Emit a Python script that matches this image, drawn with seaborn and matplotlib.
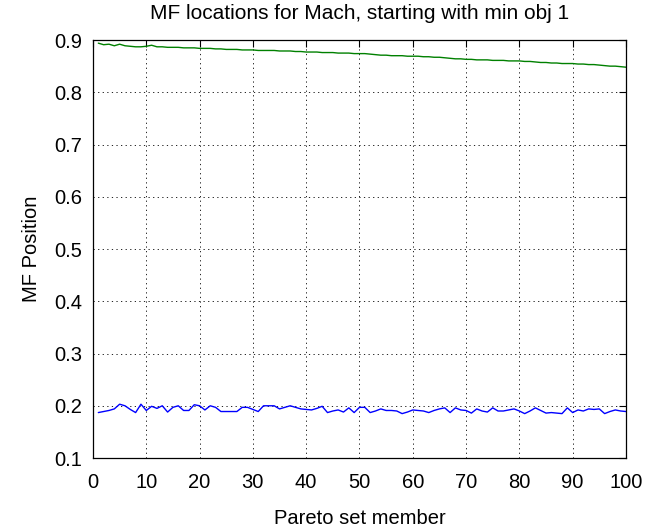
import matplotlib
matplotlib.use("Agg")
import matplotlib.pyplot as plt
import seaborn as sns
import pandas as pd

member = list(range(1, 101))

mf_upper = [
    0.894, 0.891, 0.892, 0.889, 0.892, 0.889, 0.888, 0.887, 0.887, 0.888,
    0.890, 0.887, 0.887, 0.886, 0.886, 0.886, 0.885, 0.885, 0.885, 0.884,
    0.884, 0.884, 0.883, 0.883, 0.882, 0.882, 0.882, 0.881, 0.881, 0.881,
    0.880, 0.880, 0.880, 0.880, 0.879, 0.879, 0.879, 0.878, 0.878, 0.877,
    0.877, 0.877, 0.876, 0.876, 0.876, 0.875, 0.875, 0.875, 0.874, 0.874,
    0.874, 0.873, 0.872, 0.871, 0.871, 0.870, 0.870, 0.870, 0.869, 0.869,
    0.869, 0.868, 0.868, 0.867, 0.867, 0.866, 0.865, 0.864, 0.864, 0.863,
    0.863, 0.862, 0.862, 0.862, 0.861, 0.861, 0.861, 0.860, 0.860, 0.860,
    0.859, 0.859, 0.858, 0.857, 0.857, 0.856, 0.856, 0.855, 0.855, 0.855,
    0.854, 0.854, 0.853, 0.853, 0.852, 0.851, 0.850, 0.850, 0.849, 0.848,
]

mf_lower = [
    0.187, 0.189, 0.191, 0.194, 0.203, 0.200, 0.193, 0.187, 0.203, 0.191,
    0.199, 0.195, 0.200, 0.188, 0.197, 0.200, 0.191, 0.191, 0.202, 0.200,
    0.192, 0.200, 0.197, 0.189, 0.189, 0.189, 0.189, 0.197, 0.197, 0.193,
    0.189, 0.200, 0.200, 0.200, 0.194, 0.197, 0.200, 0.197, 0.194, 0.193,
    0.192, 0.195, 0.199, 0.187, 0.190, 0.192, 0.188, 0.196, 0.187, 0.197,
    0.197, 0.187, 0.190, 0.194, 0.191, 0.191, 0.190, 0.185, 0.188, 0.192,
    0.191, 0.190, 0.187, 0.191, 0.194, 0.196, 0.187, 0.196, 0.192, 0.191,
    0.186, 0.194, 0.190, 0.188, 0.196, 0.190, 0.190, 0.192, 0.194, 0.190,
    0.185, 0.190, 0.196, 0.191, 0.186, 0.187, 0.186, 0.185, 0.196, 0.187,
    0.192, 0.190, 0.194, 0.193, 0.194, 0.185, 0.189, 0.192, 0.190, 0.189,
]

x_ticks = [0, 10, 20, 30, 40, 50, 60, 70, 80, 90, 100]
y_ticks = [0.1, 0.2, 0.3, 0.4, 0.5, 0.6, 0.7, 0.8, 0.9]

title = "MF locations for Mach, starting with min obj 1"
xlabel = "Pareto set member"
ylabel = "MF Position"

sns.set_style("white")
plt.rcParams['font.family'] = ['Liberation Sans', 'DejaVu Sans']
plt.rcParams['text.color'] = 'black'
plt.rcParams['axes.labelcolor'] = 'black'

df = pd.DataFrame({"member": member + member,
                   "pos": mf_upper + mf_lower,
                   "series": ["upper"] * len(member) + ["lower"] * len(member)})

fig = plt.figure(figsize=(6.53, 5.30), dpi=100)
ax = fig.add_axes([0.1424, 0.1358, 0.8162, 0.7887])

sns.lineplot(data=df, x="member", y="pos", hue="series",
             palette={"upper": "#008000", "lower": "#0000ff"},
             linewidth=1.0, legend=False, ax=ax)

ax.set_xlim(0, 100)
ax.set_ylim(0.1, 0.9)
ax.set_xticks(x_ticks)
ax.set_yticks(y_ticks)
ax.set_xticklabels([str(t) for t in x_ticks])
ax.set_yticklabels([f"{t:.1f}" for t in y_ticks])
ax.tick_params(direction="in", length=5, width=0.8, top=True, right=True,
               labelsize=14.5, colors="black")
ax.tick_params(axis="x", pad=11)
ax.tick_params(axis="y", pad=8)
ax.grid(True, color="black", linestyle=(0, (1.5, 4)), linewidth=0.6)
for s in ax.spines.values():
    s.set_visible(True)
    s.set_color("black")
    s.set_linewidth(0.9)

ax.set_title(title, fontsize=15, pad=15, color="black")
ax.set_xlabel(xlabel, fontsize=14.5, labelpad=12, color="black")
ax.set_ylabel(ylabel, fontsize=14.5, labelpad=9, color="black")

fig.savefig("out.png", dpi=100, facecolor="white")
